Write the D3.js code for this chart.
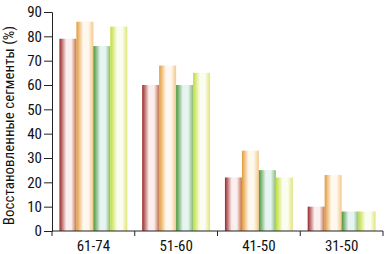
<!DOCTYPE html>
<html>
<head>
<meta charset="utf-8">
<script src="https://cdn.jsdelivr.net/npm/d3@7"></script>
<style>
  body { margin: 0; background: #fff; }
  svg text { font-family: "Liberation Sans Narrow", "Arial Narrow", "Roboto Condensed", sans-serif; fill: #111; }
</style>
</head>
<body>
<div id="chart"></div>
<script>
// age groups on the x axis
const groups = ["61-74", "51-60", "41-50", "31-50"];
// four series per group
const series = ["s1", "s2", "s3", "s4"];
const s1 = [79, 60, 22, 10];
const s2 = [86, 68, 33, 23];
const s3 = [76, 60, 25, 8];
const s4 = [84, 65, 22, 8];
const yTicks = [0, 10, 20, 30, 40, 50, 60, 70, 80, 90];
const yLabel = "Восстановленные сегменты (%)";

// bar gradients: left edge, middle, right edge
const palette = [
    ["#9a2626", "#fbeeee", "#c0704a"],
    ["#e39a3a", "#fff8ee", "#f4c88a"],
    ["#4a9638", "#e6f4f2", "#86bc72"],
    ["#c2dc34", "#fbfdf0", "#e2e47a"]
];

const width = 385, height = 254;
const margin = {top: 12, right: 2, bottom: 23, left: 52};

const svg = d3.select("#chart").append("svg")
    .attr("width", width)
    .attr("height", height);

const defs = svg.append("defs");
palette.forEach((c, i) => {
    const g = defs.append("linearGradient")
        .attr("id", "grad" + i)
        .attr("x1", "0%").attr("x2", "100%")
        .attr("y1", "0%").attr("y2", "0%");
    g.append("stop").attr("offset", "0%").attr("stop-color", c[0]);
    g.append("stop").attr("offset", "40%").attr("stop-color", c[1]);
    g.append("stop").attr("offset", "70%").attr("stop-color", c[1]);
    g.append("stop").attr("offset", "100%").attr("stop-color", c[2]);
});

const x = d3.scaleBand()
    .domain(groups)
    .range([margin.left, width - margin.right])
    .paddingInner(0.18)
    .paddingOuter(0.09);

const xSub = d3.scaleBand()
    .domain(series)
    .range([0, x.bandwidth()]);

const y = d3.scaleLinear()
    .domain([0, 90])
    .range([height - margin.bottom, margin.top]);

const data = groups.map((g, i) => ({
    group: g,
    values: [s1[i], s2[i], s3[i], s4[i]]
}));

svg.append("g")
    .selectAll("g")
    .data(data)
    .join("g")
    .attr("transform", d => `translate(${x(d.group)},0)`)
    .selectAll("rect")
    .data(d => d.values.map((v, j) => ({key: series[j], value: v, j: j})))
    .join("rect")
    .attr("x", d => xSub(d.key))
    .attr("width", xSub.bandwidth())
    .attr("y", d => y(d.value))
    .attr("height", d => y(0) - y(d.value))
    .attr("fill", d => `url(#grad${d.j})`);

// y axis
const yAxis = svg.append("g")
    .attr("transform", `translate(${margin.left},0)`)
    .call(d3.axisLeft(y).tickValues(yTicks).tickSize(8).tickPadding(2));
yAxis.select(".domain").attr("stroke", "#222");
yAxis.selectAll(".tick line").attr("stroke", "#222");
yAxis.selectAll("text").style("font-size", "15px");

// x axis with ticks on the band boundaries
const xAxisG = svg.append("g")
    .attr("transform", `translate(0,${y(0)})`);
xAxisG.append("line")
    .attr("x1", margin.left).attr("x2", width - margin.right)
    .attr("stroke", "#222");
const bounds = groups.map(g => x(g) - x.step() * x.paddingInner() / 2);
bounds.push(width - margin.right);
bounds[0] = margin.left;
xAxisG.selectAll(".xt")
    .data(bounds)
    .join("line")
    .attr("x1", d => d).attr("x2", d => d)
    .attr("y1", 0).attr("y2", 5)
    .attr("stroke", "#222");
xAxisG.selectAll(".xl")
    .data(groups)
    .join("text")
    .attr("x", d => x(d) + x.bandwidth() / 2)
    .attr("y", 20)
    .attr("text-anchor", "middle")
    .style("font-size", "15px")
    .text(d => d);

svg.append("text")
    .attr("transform", `translate(14,${(margin.top + y(0)) / 2 + 4}) rotate(-90)`)
    .attr("text-anchor", "middle")
    .style("font-size", "15px")
    .text(yLabel);
</script>
</body>
</html>
